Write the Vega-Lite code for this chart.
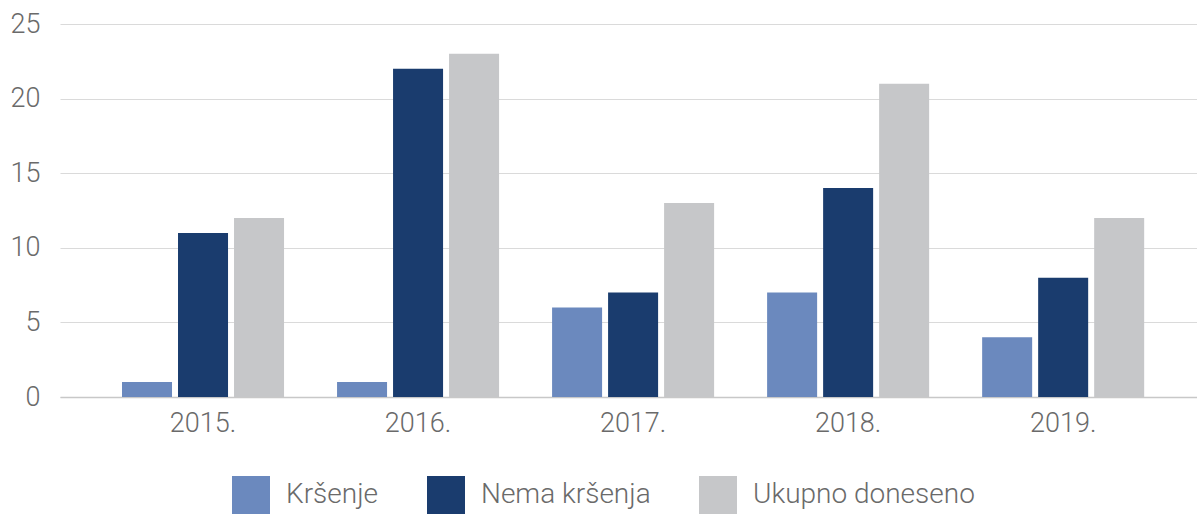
{
  "$schema": "https://vega.github.io/schema/vega-lite/v6.json",
  "width": 1137,
  "height": 373,
  "autosize": "none",
  "padding": {"left": 60, "top": 24, "right": 0, "bottom": 117},
  "background": "white",
  "config": {
    "view": {"stroke": null},
    "font": "Roboto",
    "axis": {"labelFont": "Roboto", "labelFontWeight": 300, "labelColor": "#6a6a6a", "labelFontSize": 27},
    "legend": {"labelFont": "Roboto", "labelFontWeight": 300, "labelColor": "#6a6a6a", "labelFontSize": 28, "labelLimit": 500}
  },
  "data": {
    "values": [
      {"year": "2015.", "series": "Kršenje", "value": 1},
      {"year": "2015.", "series": "Nema kršenja", "value": 11},
      {"year": "2015.", "series": "Ukupno doneseno", "value": 12},
      {"year": "2016.", "series": "Kršenje", "value": 1},
      {"year": "2016.", "series": "Nema kršenja", "value": 22},
      {"year": "2016.", "series": "Ukupno doneseno", "value": 23},
      {"year": "2017.", "series": "Kršenje", "value": 6},
      {"year": "2017.", "series": "Nema kršenja", "value": 7},
      {"year": "2017.", "series": "Ukupno doneseno", "value": 13},
      {"year": "2018.", "series": "Kršenje", "value": 7},
      {"year": "2018.", "series": "Nema kršenja", "value": 14},
      {"year": "2018.", "series": "Ukupno doneseno", "value": 21},
      {"year": "2019.", "series": "Kršenje", "value": 4},
      {"year": "2019.", "series": "Nema kršenja", "value": 8},
      {"year": "2019.", "series": "Ukupno doneseno", "value": 12}
    ]
  },
  "mark": {"type": "bar"},
  "encoding": {
    "x": {
      "field": "year",
      "type": "nominal",
      "sort": null,
      "scale": {"paddingInner": 0.2465, "paddingOuter": 0.267, "align": 0.54},
      "axis": {
        "title": null,
        "labelAngle": 0,
        "ticks": false,
        "tickSize": 0,
        "labelPadding": 13,
        "domainColor": "#c8c8c8",
        "domainWidth": 1.5,
        "grid": false
      }
    },
    "xOffset": {
      "field": "series",
      "type": "nominal",
      "sort": ["Kršenje", "Nema kršenja", "Ukupno doneseno"],
      "scale": {"paddingInner": 0.107, "paddingOuter": 0}
    },
    "y": {
      "field": "value",
      "type": "quantitative",
      "scale": {"domain": [0, 25], "nice": false},
      "axis": {
        "title": null,
        "values": [0, 5, 10, 15, 20, 25],
        "domain": false,
        "ticks": false,
        "tickSize": 0,
        "labelPadding": 20,
        "gridColor": "#dadada",
        "gridWidth": 1.2
      }
    },
    "color": {
      "field": "series",
      "type": "nominal",
      "sort": ["Kršenje", "Nema kršenja", "Ukupno doneseno"],
      "scale": {
        "domain": ["Kršenje", "Nema kršenja", "Ukupno doneseno"],
        "range": ["#6b89be", "#1a3c6e", "#c6c7c9"]
      },
      "legend": {
        "title": null,
        "orient": "none",
        "direction": "horizontal",
        "legendX": 172,
        "legendY": 452,
        "padding": 0,
        "symbolType": "square",
        "symbolSize": 1444,
        "symbolStrokeWidth": 0,
        "symbolOpacity": 1,
        "labelOffset": 16,
        "labelLimit": 500,
        "columnPadding": 48
      }
    }
  }
}
